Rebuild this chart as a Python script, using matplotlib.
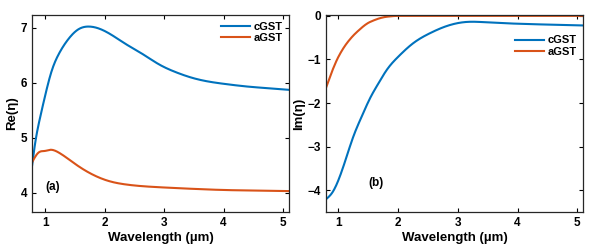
import matplotlib

matplotlib.use("Agg")
import matplotlib.pyplot as plt
import numpy as np

plt.rcParams["font.family"] = ["Liberation Sans", "DejaVu Sans"]
plt.rcParams["font.weight"] = "bold"

BLUE = "#0072BD"
ORANGE = "#D95319"

# Re(eta) vs wavelength (um)
wl_re_c = [0.78, 0.83, 0.915, 1.0, 1.11, 1.23, 1.39, 1.56, 1.73, 2.0, 2.36, 2.64, 2.92, 3.2, 3.5, 3.75, 4.0, 4.5, 5.0, 5.1]
re_c = [4.48, 4.88, 5.36, 5.76, 6.21, 6.52, 6.79, 6.97, 7.02, 6.94, 6.70, 6.52, 6.33, 6.19, 6.08, 6.02, 5.98, 5.92, 5.88, 5.87]
wl_re_a = [0.78, 0.89, 1.0, 1.08, 1.23, 1.51, 1.8, 2.08, 2.36, 2.92, 3.5, 4.0, 4.5, 5.1]
re_a = [4.55, 4.73, 4.76, 4.78, 4.73, 4.52, 4.33, 4.21, 4.15, 4.10, 4.07, 4.05, 4.04, 4.03]

# Im(eta)
wl_im_c = [0.79, 0.9, 1.0, 1.14, 1.25, 1.39, 1.53, 1.67, 1.81, 2.0, 2.25, 2.53, 2.8, 3.14, 3.5, 4.0, 4.5, 5.1]
im_c = [-4.21, -4.05, -3.77, -3.22, -2.77, -2.31, -1.89, -1.55, -1.24, -0.94, -0.63, -0.40, -0.24, -0.14, -0.15, -0.18, -0.2, -0.22]
wl_im_a = [0.79, 0.9, 1.0, 1.14, 1.31, 1.53, 1.81, 2.0, 2.5, 3.0, 4.0, 5.1]
im_a = [-1.66, -1.25, -0.94, -0.63, -0.37, -0.14, -0.02, 0.0, 0.0, 0.0, 0.0, 0.0]


def pchip(x, y, n=400):
    x = np.asarray(x, float); y = np.asarray(y, float)
    xs = np.linspace(x[0], x[-1], n)
    h = np.diff(x); d = np.diff(y) / h
    m = np.zeros_like(y)
    m[0] = d[0]; m[-1] = d[-1]
    for i in range(1, len(x) - 1):
        if d[i - 1] * d[i] <= 0:
            m[i] = 0.0
        else:
            w1 = 2 * h[i] + h[i - 1]; w2 = h[i] + 2 * h[i - 1]
            m[i] = (w1 + w2) / (w1 / d[i - 1] + w2 / d[i])
    idx = np.clip(np.searchsorted(x, xs) - 1, 0, len(x) - 2)
    t = (xs - x[idx]) / h[idx]
    h00 = 2 * t**3 - 3 * t**2 + 1; h10 = t**3 - 2 * t**2 + t
    h01 = -2 * t**3 + 3 * t**2; h11 = t**3 - t**2
    ys = h00 * y[idx] + h10 * h[idx] * m[idx] + h01 * y[idx + 1] + h11 * h[idx] * m[idx + 1]
    return xs, ys


def spline(x, y, n=400):
    # natural cubic spline
    x = np.asarray(x, float); y = np.asarray(y, float)
    k = len(x); h = np.diff(x)
    A = np.zeros((k, k)); r = np.zeros(k)
    A[0, 0] = A[-1, -1] = 1.0
    for i in range(1, k - 1):
        A[i, i - 1] = h[i - 1]; A[i, i] = 2 * (h[i - 1] + h[i]); A[i, i + 1] = h[i]
        r[i] = 6 * ((y[i + 1] - y[i]) / h[i] - (y[i] - y[i - 1]) / h[i - 1])
    M = np.linalg.solve(A, r)
    xs = np.linspace(x[0], x[-1], n)
    i = np.clip(np.searchsorted(x, xs) - 1, 0, k - 2)
    a = x[i + 1] - xs; b = xs - x[i]; hi = h[i]
    ys = (M[i] * a**3 + M[i + 1] * b**3) / (6 * hi) + (y[i] / hi - M[i] * hi / 6) * a + (y[i + 1] / hi - M[i + 1] * hi / 6) * b
    return xs, ys


def style(ax):
    ax.tick_params(direction="in", top=True, right=True, labelsize=8.5, length=3, width=0.8)
    for s in ax.spines.values():
        s.set_linewidth(0.9)
        s.set_color("#262626")
    for lab in ax.get_xticklabels() + ax.get_yticklabels():
        lab.set_fontweight("bold")
    ax.set_xlabel("Wavelength (µm)", fontsize=9.5, fontweight="bold", labelpad=2)


fig = plt.figure(figsize=(5.99, 2.5), dpi=100)
ax1 = fig.add_axes([0.0534, 0.152, 0.429, 0.788])
ax2 = fig.add_axes([0.544, 0.152, 0.4296, 0.788])

ax1.plot(*spline(wl_re_c, re_c), color=BLUE, lw=1.5, label="cGST")
ax1.plot(*spline(wl_re_a, re_a), color=ORANGE, lw=1.5, label="aGST")
ax1.set_xlim(0.78, 5.1)
ax1.set_ylim(3.65, 7.23)
ax1.set_xticks([1, 2, 3, 4, 5])
ax1.set_yticks([4, 5, 6, 7])
ax1.set_ylabel("Re(η)", fontsize=9.5, fontweight="bold", labelpad=2)
ax1.text(1.0, 4.05, "(a)", fontsize=8.5, fontweight="bold")
ax1.legend(loc="upper right", frameon=False, handlelength=2.6,
           borderaxespad=0.2, labelspacing=0.1, handletextpad=0.3,
           prop={"weight": "bold", "size": 8})
style(ax1)

ax2.plot(*spline(wl_im_c, im_c), color=BLUE, lw=1.5, label="cGST")
ax2.plot(*pchip(wl_im_a, im_a), color=ORANGE, lw=1.5, label="aGST")
ax2.set_xlim(0.79, 5.1)
ax2.set_ylim(-4.5, 0.02)
ax2.set_xticks([1, 2, 3, 4, 5])
ax2.set_yticks([-4, -3, -2, -1, 0])
ax2.set_ylabel("Im(η)", fontsize=9.5, fontweight="bold", labelpad=2)
ax2.text(1.5, -3.9, "(b)", fontsize=8.5, fontweight="bold")
ax2.legend(loc="upper right", bbox_to_anchor=(1.0, 0.93), frameon=False,
           handlelength=2.6, borderaxespad=0.2, labelspacing=0.1, handletextpad=0.3,
           prop={"weight": "bold", "size": 8})
style(ax2)

fig.savefig("out.png", dpi=100)
